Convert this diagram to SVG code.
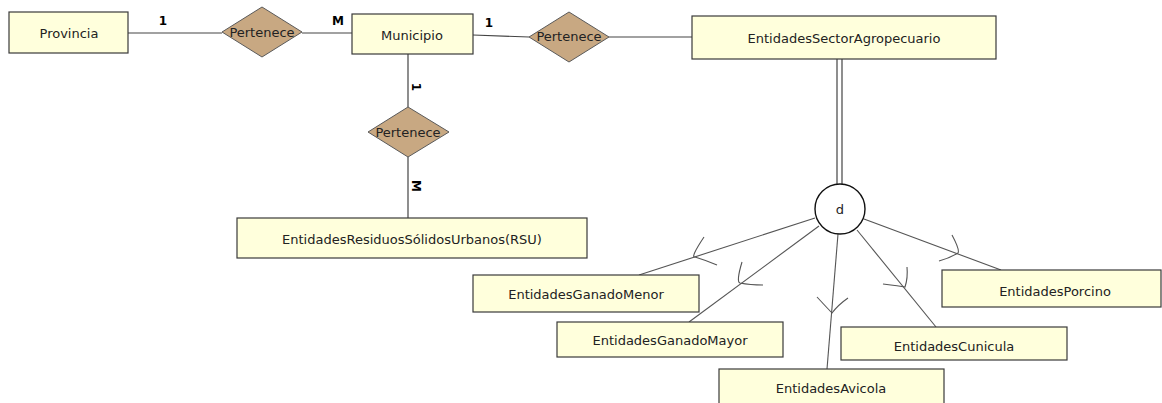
<svg xmlns="http://www.w3.org/2000/svg" width="1162" height="403" viewBox="0 0 1162 403">
<style>
.ent{fill:#ffffdc;stroke:#3a3a3a;stroke-width:1.2}
.rel{fill:#c8a882;stroke:#5a5a5a;stroke-width:1}
.t{font-family:"DejaVu Sans",Verdana,sans-serif;font-size:13px;fill:#222;text-anchor:middle;dominant-baseline:central}
.card{font-family:"DejaVu Sans",Verdana,sans-serif;font-size:12px;font-weight:bold;fill:#000;text-anchor:middle;dominant-baseline:central}
.ln{stroke:#444;stroke-width:1.2;fill:none}
.sub{stroke:#555;stroke-width:1.1;fill:none}
</style>
<rect width="1162" height="403" fill="#fff"/>
<g id="connectors">
<line class="ln" x1="128" y1="33" x2="222" y2="33"/>
<line class="ln" x1="302" y1="33" x2="352" y2="33"/>
<line class="ln" x1="473" y1="35" x2="529" y2="37"/>
<line class="ln" x1="609" y1="37" x2="692" y2="37"/>
<line class="ln" x1="408" y1="54" x2="408" y2="107"/>
<line class="ln" x1="408" y1="157" x2="408" y2="218"/>
<line class="ln" x1="837" y1="59" x2="837" y2="185"/>
<line class="ln" x1="842" y1="59" x2="842" y2="185"/>
<line class="sub" x1="815" y1="218" x2="639" y2="275"/>
<line class="sub" x1="819" y1="226" x2="689" y2="322"/>
<line class="sub" x1="838" y1="234" x2="827" y2="369"/>
<line class="sub" x1="857" y1="230" x2="936" y2="327"/>
<line class="sub" x1="864" y1="219" x2="1001" y2="270"/>
<path class="sub" d="M704,237 Q690,258 695,257 Q705,260 717,265"/>
<path class="sub" d="M742,262 Q736,282 740,283 Q750,285 763,285"/>
<path class="sub" d="M817,297 Q830,311 832,313 Q838,305 848,298"/>
<path class="sub" d="M883,284 Q900,286 905,287 Q908,278 907,267"/>
<path class="sub" d="M952,235 Q960,250 958,253 Q950,258 939,261"/>
<text class="card" x="163" y="21">1</text>
<text class="card" x="338" y="21">M</text>
<text class="card" x="489" y="23">1</text>
<text class="card" transform="translate(416,87) rotate(90)">1</text>
<text class="card" transform="translate(416,186) rotate(90)">M</text>
</g>
<g id="provincia"><rect class="ent" x="9" y="12" width="119" height="41"/><text class="t" x="69" y="33">Provincia</text></g>
<g id="pertenece1"><polygon class="rel" points="222,32 262,7 302,32 262,57"/><text class="t" x="262" y="32">Pertenece</text></g>
<g id="municipio"><rect class="ent" x="352" y="14" width="121" height="40"/><text class="t" x="412" y="35">Municipio</text></g>
<g id="pertenece2"><polygon class="rel" points="529,37 569,12 609,37 569,62"/><text class="t" x="569" y="36">Pertenece</text></g>
<g id="sectorAgro"><rect class="ent" x="692" y="16" width="304" height="43"/><text class="t" x="844" y="38">EntidadesSectorAgropecuario</text></g>
<g id="pertenece3"><polygon class="rel" points="368,132 408,107 449,132 408,157"/><text class="t" x="408" y="132">Pertenece</text></g>
<g id="rsu"><rect class="ent" x="237" y="218" width="350" height="40"/><text class="t" x="412" y="239">EntidadesResiduosSólidosUrbanos(RSU)</text></g>
<g id="disjoint"><circle cx="840" cy="209" r="25" fill="#fff" stroke="#111" stroke-width="1.4"/><text class="t" x="840" y="209">d</text></g>
<g id="ganadoMenor"><rect class="ent" x="473" y="275" width="226" height="37"/><text class="t" x="586" y="294">EntidadesGanadoMenor</text></g>
<g id="ganadoMayor"><rect class="ent" x="557" y="322" width="226" height="35"/><text class="t" x="670" y="340">EntidadesGanadoMayor</text></g>
<g id="avicola"><rect class="ent" x="719" y="369" width="225" height="40"/><text class="t" x="831" y="388">EntidadesAvicola</text></g>
<g id="cunicula"><rect class="ent" x="841" y="327" width="226" height="33"/><text class="t" x="954" y="346">EntidadesCunicula</text></g>
<g id="porcino"><rect class="ent" x="942" y="270" width="219" height="37"/><text class="t" x="1055" y="291">EntidadesPorcino</text></g>
</svg>
